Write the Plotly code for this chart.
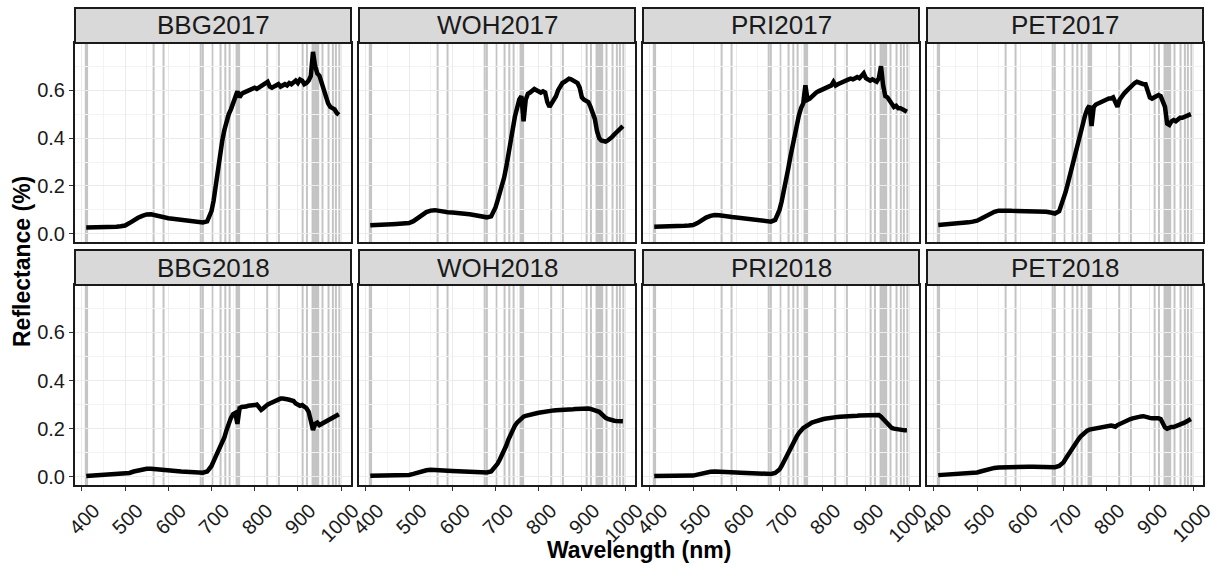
import plotly.graph_objects as go

# ---------------- data ----------------
WAVELENGTH = [410, 420, 430, 440, 450, 460, 470, 480, 490, 500,
              510, 520, 530, 540, 550, 560, 570, 580, 590, 600,
              610, 620, 630, 640, 650, 660, 670, 680, 690,
              700, 705, 710, 715, 720, 725, 730, 735, 740, 745,
              750, 755, 760, 765, 770, 775, 780, 785, 790, 795,
              800, 805, 810, 815, 820, 825, 830, 835, 840, 845,
              850, 855, 860, 865, 870, 875, 880, 885, 890, 895,
              900, 905, 910, 915, 920, 925, 930, 935, 940, 945,
              950, 955, 960, 965, 970, 975, 980, 985, 990, 995]

PANELS = ["BBG2017", "WOH2017", "PRI2017", "PET2017",
          "BBG2018", "WOH2018", "PRI2018", "PET2018"]

BBG2017 = [0.027, 0.027, 0.027, 0.028, 0.028, 0.029, 0.030, 0.030, 0.032, 0.035,
           0.045, 0.058, 0.067, 0.075, 0.081, 0.082, 0.077, 0.072, 0.068, 0.065,
           0.063, 0.061, 0.060, 0.058, 0.056, 0.054, 0.052, 0.048, 0.052,
           0.095, 0.14, 0.21, 0.28, 0.34, 0.39, 0.435, 0.47, 0.50, 0.52,
           0.55, 0.565, 0.595, 0.57, 0.585, 0.59, 0.595, 0.60, 0.60, 0.605,
           0.61, 0.605, 0.61, 0.615, 0.62, 0.625, 0.635, 0.615, 0.61, 0.615,
           0.62, 0.625, 0.615, 0.62, 0.625, 0.62, 0.63, 0.625, 0.635, 0.64,
           0.63, 0.645, 0.64, 0.625, 0.63, 0.64, 0.66, 0.76, 0.70, 0.67,
           0.66, 0.63, 0.60, 0.56, 0.545, 0.53, 0.525, 0.52, 0.505, 0.497]

WOH2017 = [0.036, 0.036, 0.037, 0.038, 0.039, 0.040, 0.041, 0.042, 0.043, 0.045,
           0.053, 0.066, 0.080, 0.091, 0.097, 0.099, 0.096, 0.092, 0.090, 0.089,
           0.088, 0.086, 0.084, 0.082, 0.079, 0.076, 0.072, 0.069, 0.073,
           0.11, 0.14, 0.17, 0.20, 0.235, 0.28, 0.34, 0.38, 0.44, 0.49,
           0.525, 0.56, 0.575, 0.47, 0.56, 0.585, 0.59, 0.60, 0.605, 0.60,
           0.595, 0.59, 0.595, 0.59, 0.55, 0.53, 0.545, 0.56, 0.575, 0.60,
           0.62, 0.63, 0.635, 0.64, 0.648, 0.645, 0.64, 0.635, 0.63, 0.61,
           0.57, 0.56, 0.555, 0.55, 0.53, 0.505, 0.48, 0.43, 0.40, 0.39,
           0.385, 0.385, 0.39, 0.395, 0.405, 0.415, 0.425, 0.435, 0.44, 0.45]

PRI2017 = [0.030, 0.030, 0.031, 0.031, 0.032, 0.032, 0.033, 0.034, 0.035, 0.037,
           0.045, 0.058, 0.068, 0.075, 0.079, 0.078, 0.074, 0.071, 0.070, 0.068,
           0.066, 0.064, 0.062, 0.060, 0.058, 0.055, 0.053, 0.051, 0.058,
           0.10, 0.135, 0.175, 0.22, 0.27, 0.32, 0.37, 0.42, 0.46, 0.495,
           0.525, 0.545, 0.62, 0.56, 0.565, 0.575, 0.58, 0.59, 0.595, 0.60,
           0.60, 0.605, 0.61, 0.615, 0.62, 0.635, 0.62, 0.625, 0.63, 0.635,
           0.64, 0.645, 0.645, 0.648, 0.645, 0.65, 0.655, 0.65, 0.66, 0.67,
           0.65, 0.645, 0.64, 0.645, 0.64, 0.635, 0.65, 0.70, 0.62, 0.575,
           0.57, 0.555, 0.54, 0.53, 0.535, 0.525, 0.525, 0.52, 0.515, 0.51]

PET2017 = [0.037, 0.038, 0.039, 0.040, 0.042, 0.044, 0.046, 0.048, 0.051, 0.055,
           0.064, 0.075, 0.085, 0.092, 0.097, 0.099, 0.097, 0.096, 0.096, 0.096,
           0.096, 0.096, 0.096, 0.095, 0.094, 0.092, 0.089, 0.085, 0.095,
           0.14, 0.175, 0.21, 0.245, 0.28, 0.32, 0.36, 0.40, 0.43, 0.465,
           0.495, 0.52, 0.535, 0.45, 0.53, 0.54, 0.545, 0.55, 0.555, 0.555,
           0.56, 0.565, 0.565, 0.57, 0.55, 0.53, 0.56, 0.575, 0.585, 0.595,
           0.605, 0.615, 0.62, 0.63, 0.635, 0.63, 0.63, 0.625, 0.625, 0.60,
           0.57, 0.565, 0.57, 0.575, 0.58, 0.575, 0.555, 0.53, 0.46, 0.455,
           0.47, 0.475, 0.47, 0.48, 0.485, 0.485, 0.49, 0.495, 0.495, 0.50]

BBG2018 = [0.003, 0.004, 0.005, 0.005, 0.006, 0.007, 0.008, 0.009, 0.010, 0.011,
           0.016, 0.022, 0.027, 0.031, 0.033, 0.033, 0.031, 0.028, 0.026, 0.025,
           0.024, 0.023, 0.022, 0.021, 0.020, 0.019, 0.018, 0.017, 0.022,
           0.045, 0.065, 0.085, 0.10, 0.12, 0.14, 0.165, 0.195, 0.225, 0.245,
           0.26, 0.265, 0.22, 0.285, 0.29, 0.29, 0.292, 0.295, 0.295, 0.297,
           0.298, 0.30, 0.29, 0.278, 0.285, 0.295, 0.30, 0.305, 0.31, 0.315,
           0.318, 0.32, 0.325, 0.325, 0.325, 0.322, 0.32, 0.318, 0.315, 0.305,
           0.30, 0.295, 0.298, 0.29, 0.285, 0.27, 0.23, 0.195, 0.22, 0.225,
           0.215, 0.22, 0.22, 0.225, 0.23, 0.235, 0.24, 0.245, 0.25, 0.26]

WOH2018 = [0.004, 0.004, 0.005, 0.005, 0.005, 0.006, 0.006, 0.006, 0.007, 0.008,
           0.012, 0.018, 0.023, 0.027, 0.029, 0.029, 0.027, 0.026, 0.025, 0.024,
           0.023, 0.022, 0.021, 0.020, 0.020, 0.019, 0.018, 0.018, 0.022,
           0.04, 0.055, 0.072, 0.09, 0.11, 0.13, 0.155, 0.178, 0.198, 0.213,
           0.225, 0.235, 0.24, 0.25, 0.253, 0.256, 0.258, 0.26, 0.262, 0.264,
           0.266, 0.268, 0.27, 0.272, 0.273, 0.274, 0.275, 0.276, 0.277, 0.277,
           0.278, 0.279, 0.279, 0.28, 0.28, 0.281, 0.281, 0.282, 0.283, 0.284,
           0.284, 0.285, 0.285, 0.284, 0.282, 0.279, 0.276, 0.274, 0.27, 0.262,
           0.252, 0.245, 0.241, 0.237, 0.235, 0.233, 0.232, 0.231, 0.231, 0.231]

PRI2018 = [0.003, 0.003, 0.003, 0.003, 0.004, 0.004, 0.004, 0.004, 0.005, 0.005,
           0.009, 0.014, 0.018, 0.021, 0.022, 0.022, 0.021, 0.019, 0.018, 0.018,
           0.017, 0.016, 0.015, 0.015, 0.014, 0.013, 0.012, 0.012, 0.016,
           0.03, 0.045, 0.063, 0.083, 0.10, 0.12, 0.14, 0.155, 0.168, 0.182,
           0.195, 0.203, 0.208, 0.215, 0.22, 0.225, 0.228, 0.232, 0.235, 0.237,
           0.239, 0.241, 0.243, 0.245, 0.246, 0.247, 0.248, 0.249, 0.25, 0.25,
           0.251, 0.251, 0.252, 0.252, 0.253, 0.253, 0.254, 0.255, 0.255, 0.256,
           0.256, 0.255, 0.256, 0.255, 0.256, 0.255, 0.257, 0.25, 0.24, 0.23,
           0.22, 0.21, 0.203, 0.20, 0.198, 0.196, 0.195, 0.194, 0.193, 0.193]

PET2018 = [0.007, 0.008, 0.009, 0.010, 0.011, 0.012, 0.013, 0.015, 0.016, 0.018,
           0.023, 0.029, 0.034, 0.037, 0.039, 0.040, 0.041, 0.041, 0.042, 0.042,
           0.042, 0.042, 0.042, 0.042, 0.041, 0.041, 0.040, 0.040, 0.045,
           0.06, 0.075, 0.09, 0.105, 0.118, 0.13, 0.145, 0.157, 0.168, 0.178,
           0.186, 0.192, 0.196, 0.198, 0.201, 0.203, 0.205, 0.207, 0.208, 0.209,
           0.21, 0.212, 0.213, 0.211, 0.208, 0.215, 0.22, 0.225, 0.23, 0.234,
           0.237, 0.24, 0.243, 0.246, 0.248, 0.25, 0.251, 0.252, 0.251, 0.247,
           0.245, 0.243, 0.244, 0.242, 0.243, 0.24, 0.225, 0.205, 0.20, 0.205,
           0.207, 0.207, 0.21, 0.213, 0.217, 0.222, 0.225, 0.23, 0.235, 0.24]

SERIES = [BBG2017, WOH2017, PRI2017, PET2017, BBG2018, WOH2018, PRI2018, PET2018]

# selected wavelengths shown as grey vertical lines
SELECTED_BANDS = [409, 412, 566, 589, 675, 680, 702, 721, 732, 742,
                  758, 761, 764, 829, 856, 911, 921,
                  934, 937, 940, 943, 946, 949, 957, 971, 981, 988, 996]

X_TICKS = [400, 500, 600, 700, 800, 900, 1000]
X_TICK_LABELS = ["400", "500", "600", "700", "800", "900", "1000"]
X_MINOR = [450, 550, 650, 750, 850, 950]
Y_TICKS = [0.0, 0.2, 0.4, 0.6]
Y_TICK_LABELS = ["0.0", "0.2", "0.4", "0.6"]
Y_MINOR = [0.1, 0.3, 0.5, 0.7]

for s in SERIES:
    assert len(s) == len(WAVELENGTH), len(s)

# ---------------- layout geometry (pixels) ----------------
W, H = 1222, 568
COL_LEFT = [75, 359, 643, 927]
COL_W = 276
ROW_TOP = [43, 285]       # top of plotting area
ROW_BOT = [242, 485]      # bottom of plotting area
STRIP_H = 35

FONT = "Liberation Sans, Arial, sans-serif"
INK = "#1a1a1a"

fig = go.Figure()
layout = dict(
    width=W, height=H,
    margin=dict(l=0, r=0, t=0, b=0, autoexpand=False),
    paper_bgcolor="white", plot_bgcolor="white",
    showlegend=False,
    font=dict(family=FONT, color=INK),
)
shapes = []
annotations = []

for i, (name, vals) in enumerate(zip(PANELS, SERIES)):
    r, c = divmod(i, 4)
    n = i + 1
    xk = "xaxis" if n == 1 else f"xaxis{n}"
    yk = "yaxis" if n == 1 else f"yaxis{n}"
    xr = "x" if n == 1 else f"x{n}"
    yr = "y" if n == 1 else f"y{n}"
    x0 = COL_LEFT[c] / W
    x1 = (COL_LEFT[c] + COL_W) / W
    y0 = (H - ROW_BOT[r]) / H
    y1 = (H - ROW_TOP[r]) / H
    bottom = (r == 1)
    left = (c == 0)
    layout[xk] = dict(
        domain=[x0, x1], anchor=yr, range=[384, 1023], automargin=False,
        tickmode="array", tickvals=X_TICKS, ticktext=X_TICK_LABELS,
        showticklabels=bottom, ticks="outside" if bottom else "",
        ticklen=4, tickwidth=1.2, tickcolor="#333333",
        tickangle=-45, tickfont=dict(size=20, color=INK, family=FONT),
        ticklabelshift=12,
        showgrid=True, gridcolor="#EBEBEB", gridwidth=1.3,
        minor=dict(tickmode="array", tickvals=X_MINOR, showgrid=True,
                   gridcolor="#F3F3F3", gridwidth=0.7, ticks=""),
        showline=True, mirror=True, linecolor=INK, linewidth=2,
        zeroline=False, fixedrange=True,
    )
    layout[yk] = dict(
        domain=[y0, y1], anchor=xr, range=[-0.034, 0.797], automargin=False,
        tickmode="array", tickvals=Y_TICKS, ticktext=Y_TICK_LABELS,
        showticklabels=left, ticks="outside" if left else "",
        ticklen=4, tickwidth=1.2, tickcolor="#333333",
        tickfont=dict(size=20, color=INK, family=FONT),
        showgrid=True, gridcolor="#EBEBEB", gridwidth=1.3,
        minor=dict(tickmode="array", tickvals=Y_MINOR, showgrid=True,
                   gridcolor="#F3F3F3", gridwidth=0.7, ticks=""),
        showline=True, mirror=True, linecolor=INK, linewidth=2,
        zeroline=False, fixedrange=True,
    )
    # grey vertical lines at selected wavelengths
    for b in SELECTED_BANDS:
        shapes.append(dict(type="line", xref=xr, yref=f"{yr} domain",
                           x0=b, x1=b, y0=0, y1=1, layer="below",
                           line=dict(color="#C4C4C4", width=2)))
    # spectrum
    fig.add_trace(go.Scatter(x=WAVELENGTH, y=vals, mode="lines",
                             line=dict(color="black", width=4.5),
                             xaxis=xr, yaxis=yr, hoverinfo="skip"))
    # strip
    sy0 = (H - ROW_TOP[r]) / H
    sy1 = (H - ROW_TOP[r] + STRIP_H) / H
    shapes.append(dict(type="rect", xref="paper", yref="paper",
                       x0=x0, x1=x1, y0=sy0, y1=sy1, layer="above",
                       fillcolor="#D9D9D9", line=dict(color=INK, width=2)))
    annotations.append(dict(text=name, xref="paper", yref="paper",
                            x=(x0 + x1) / 2, y=(sy0 + sy1) / 2,
                            xanchor="center", yanchor="middle", showarrow=False,
                            font=dict(size=26, color=INK, family=FONT)))

annotations.append(dict(text="<b>Wavelength (nm)</b>", xref="paper", yref="paper",
                        x=639 / W, y=(H - 550) / H, xanchor="center", yanchor="middle",
                        showarrow=False, font=dict(size=23, color="black", family=FONT)))
annotations.append(dict(text="<b>Reflectance (%)</b>", xref="paper", yref="paper",
                        x=22 / W, y=(H - 262) / H, xanchor="center", yanchor="middle",
                        textangle=-90, showarrow=False,
                        font=dict(size=23, color="black", family=FONT)))

layout["shapes"] = shapes
layout["annotations"] = annotations
fig.update_layout(**layout)
fig.write_html("out.html")
